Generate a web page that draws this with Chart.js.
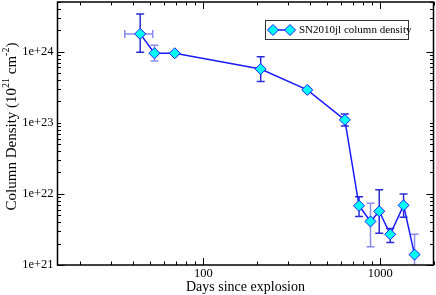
<!DOCTYPE html>
<html>
<head>
<meta charset="utf-8">
<script src="https://cdn.jsdelivr.net/npm/chart.js@4.4.0/dist/chart.umd.min.js"></script>
<style>
  html, body { margin: 0; padding: 0; background: #fff; }
  .chart-container { width: 436px; height: 295px; }
</style>
</head>
<body>
<div class="chart-container"><canvas id="myCanvas"></canvas></div>
<script>
// data
const days = [44, 53, 69, 211, 387, 631, 759, 881, 987, 1139, 1355, 1563];
const density = [1.78e24, 9.5e23, 9.5e23, 5.7e23, 2.9e23, 1.1e23, 6.8e21, 4.1e21, 5.7e21, 2.7e21, 6.9e21, 1.4e21];
const densityLow = [9.8e23, 7.4e23, null, 3.8e23, null, 9.0e22, 4.8e21, 1.8e21, 2.8e21, 2.07e21, 4.7e21, 9e20];
const densityHigh = [3.4e24, 1.23e24, null, 8.5e23, null, 1.33e23, 9.1e21, 7.4e21, 1.14e22, 3.25e21, 1.0e22, 2.7e21];
const daysLow = [36, null, null, null, null, null, null, null, null, null, null, null];
const daysHigh = [51.8, null, null, null, null, null, null, null, null, null, null, null];

const xTicks = [100, 1000];
const xTickLabels = ["100", "1000"];
const yTicks = [1e21, 1e22, 1e23, 1e24];
const yTickLabels = ["1e+21", "1e+22", "1e+23", "1e+24"];

const seriesLabel = "SN2010jl column density";
const xTitle = "Days since explosion";

// error bar shades (some bars are paler in the original)
const DARK = "#2b2bd6";
const LIGHT = "#8a8af2";
const yErrColor = [DARK, LIGHT, DARK, DARK, DARK, DARK, DARK, LIGHT, DARK, DARK, DARK, LIGHT];
const xErrColor = [LIGHT];

const FONT = "'Liberation Serif', 'Times New Roman', serif";
const canvas = document.querySelector("#myCanvas");

function minorValues(min, max) {
  let arr = [];
  for (let e = Math.floor(Math.log10(min)); e <= Math.ceil(Math.log10(max)); e++) {
    for (let m = 1; m < 10; m++) {
      const v = m * Math.pow(10, e);
      if (v >= min && v <= max) arr.push(v);
    }
  }
  return arr;
}

function drawDiamond(ctx, x, y, r) {
  ctx.beginPath();
  ctx.moveTo(x - r, y);
  ctx.lineTo(x, y - r);
  ctx.lineTo(x + r, y);
  ctx.lineTo(x, y + r);
  ctx.closePath();
  ctx.fillStyle = "#00ffff";
  ctx.fill();
  ctx.strokeStyle = "#1a1aff";
  ctx.lineWidth = 1;
  ctx.stroke();
}

const errorBars = {
  id: "errorBars",
  beforeDatasetsDraw(chart) {
    const { ctx, chartArea, scales } = chart;
    const xs = scales.x, ys = scales.y;
    const cap = 4;
    ctx.save();
    ctx.beginPath();
    ctx.rect(chartArea.left, chartArea.top, chartArea.right - chartArea.left, chartArea.bottom - chartArea.top);
    ctx.clip();
    ctx.lineWidth = 1.5;
    days.forEach((d, i) => {
      const px = xs.getPixelForValue(d);
      const py = ys.getPixelForValue(density[i]);
      if (densityLow[i] != null) {
        const y1 = ys.getPixelForValue(densityLow[i]);
        const y2 = ys.getPixelForValue(densityHigh[i]);
        ctx.strokeStyle = yErrColor[i];
        ctx.beginPath();
        ctx.moveTo(px, y1); ctx.lineTo(px, y2);
        ctx.moveTo(px - cap, y1); ctx.lineTo(px + cap, y1);
        ctx.moveTo(px - cap, y2); ctx.lineTo(px + cap, y2);
        ctx.stroke();
      }
      if (daysLow[i] != null) {
        const x1 = xs.getPixelForValue(daysLow[i]);
        const x2 = xs.getPixelForValue(daysHigh[i]);
        ctx.strokeStyle = xErrColor[i] || LIGHT;
        ctx.beginPath();
        ctx.moveTo(x1, py); ctx.lineTo(x2, py);
        ctx.moveTo(x1, py - cap); ctx.lineTo(x1, py + cap);
        ctx.moveTo(x2, py - cap); ctx.lineTo(x2, py + cap);
        ctx.stroke();
      }
    });
    ctx.restore();
  },
};

const frame = {
  id: "frame",
  afterDraw(chart) {
    const { ctx, chartArea, scales } = chart;
    const { left, right, top, bottom } = chartArea;
    const xs = scales.x, ys = scales.y;
    ctx.save();
    ctx.strokeStyle = "#000";

    // inward ticks on all four sides
    ctx.lineWidth = 1;
    ctx.beginPath();
    minorValues(xs.min, xs.max).forEach((v) => {
      const px = Math.round(xs.getPixelForValue(v)) + 0.5;
      const len = xTicks.includes(v) ? 7 : 3.5;
      ctx.moveTo(px, bottom); ctx.lineTo(px, bottom - len);
      ctx.moveTo(px, top); ctx.lineTo(px, top + len);
    });
    minorValues(ys.min, ys.max).forEach((v) => {
      const py = Math.round(ys.getPixelForValue(v)) + 0.5;
      const len = yTicks.includes(v) ? 7 : 3.5;
      ctx.moveTo(left, py); ctx.lineTo(left + len, py);
      ctx.moveTo(right, py); ctx.lineTo(right - len, py);
    });
    ctx.stroke();

    ctx.lineWidth = 1.5;
    ctx.strokeRect(left, top, right - left, bottom - top);

    // axis titles
    ctx.fillStyle = "#000";
    ctx.font = `14px ${FONT}`;
    ctx.textAlign = "center";
    ctx.textBaseline = "middle";
    ctx.fillText(xTitle, (left + right) / 2, 287);

    const parts = [
      { t: "Column Density (10", sup: false },
      { t: "21", sup: true },
      { t: " cm", sup: false },
      { t: "-2", sup: true },
      { t: ")", sup: false },
    ];
    const fontFor = (p) => (p.sup ? `10px ${FONT}` : `15px ${FONT}`);
    let total = 0;
    parts.forEach((p) => { ctx.font = fontFor(p); total += ctx.measureText(p.t).width; });
    ctx.translate(12, 126.5);
    ctx.rotate(-Math.PI / 2);
    ctx.textAlign = "left";
    let cx = -total / 2;
    parts.forEach((p) => {
      ctx.font = fontFor(p);
      ctx.fillText(p.t, cx, p.sup ? -6 : 0);
      cx += ctx.measureText(p.t).width;
    });
    ctx.restore();

    // legend box
    ctx.save();
    const bx = 265, by = 20.5, bw = 143, bh = 19;
    ctx.fillStyle = "#fff";
    ctx.fillRect(bx, by, bw, bh);
    ctx.strokeStyle = "#333";
    ctx.lineWidth = 1;
    ctx.strokeRect(bx + 0.5, by, bw, bh);
    const ly = by + bh / 2;
    ctx.strokeStyle = "#1a1aff";
    ctx.lineWidth = 1.5;
    ctx.beginPath();
    ctx.moveTo(273, ly); ctx.lineTo(290, ly);
    ctx.stroke();
    drawDiamond(ctx, 273, ly, 5.5);
    drawDiamond(ctx, 290, ly, 5.5);
    ctx.fillStyle = "#000";
    ctx.font = `11px ${FONT}`;
    ctx.textAlign = "left";
    ctx.textBaseline = "middle";
    ctx.fillText(seriesLabel, 299, ly + 0.5);
    ctx.restore();
  },
};

const data = {
  datasets: [
    {
      label: seriesLabel,
      data: days.map((d, i) => ({ x: d, y: density[i] })),
      borderColor: "#1a1aff",
      borderWidth: 1.5,
      backgroundColor: "#00ffff",
      pointStyle: "rectRot",
      pointRadius: 5.5,
      pointBorderWidth: 1,
      pointBorderColor: "#1a1aff",
      pointBackgroundColor: "#00ffff",
      tension: 0,
      clip: false,
    },
  ],
};

const config = {
  type: "line",
  data: data,
  plugins: [errorBars, frame],
  options: {
    responsive: true,
    maintainAspectRatio: false,
    animation: false,
    layout: { autoPadding: false, padding: { left: 0, right: 2.5, top: 2, bottom: 0 } },
    plugins: {
      legend: { display: false },
      tooltip: { enabled: false },
    },
    scales: {
      x: {
        type: "logarithmic",
        min: 15,
        max: 2000,
        afterBuildTicks: (axis) => { axis.ticks = xTicks.map((v) => ({ value: v })); },
        afterFit: (axis) => {
          axis.height = 30;
          axis.paddingLeft = 0;
          axis.paddingRight = 0;
        },
        grid: { display: false, drawTicks: false },
        border: { display: false },
        ticks: {
          autoSkip: false,
          maxRotation: 0,
          padding: 1,
          color: "#000",
          font: { family: FONT, size: 12.5 },
          callback: (v, i) => xTickLabels[i],
        },
      },
      y: {
        type: "logarithmic",
        min: 1e21,
        max: 5e24,
        afterBuildTicks: (axis) => { axis.ticks = yTicks.map((v) => ({ value: v })); },
        afterFit: (axis) => {
          axis.width = 57.5;
          axis.paddingTop = 0;
          axis.paddingBottom = 0;
        },
        grid: { display: false, drawTicks: false },
        border: { display: false },
        ticks: {
          autoSkip: false,
          padding: 4,
          color: "#000",
          font: { family: FONT, size: 12.5 },
          callback: (v, i) => yTickLabels[i],
        },
      },
    },
  },
};

const myChart = new Chart(canvas, config);
</script>
</body>
</html>
